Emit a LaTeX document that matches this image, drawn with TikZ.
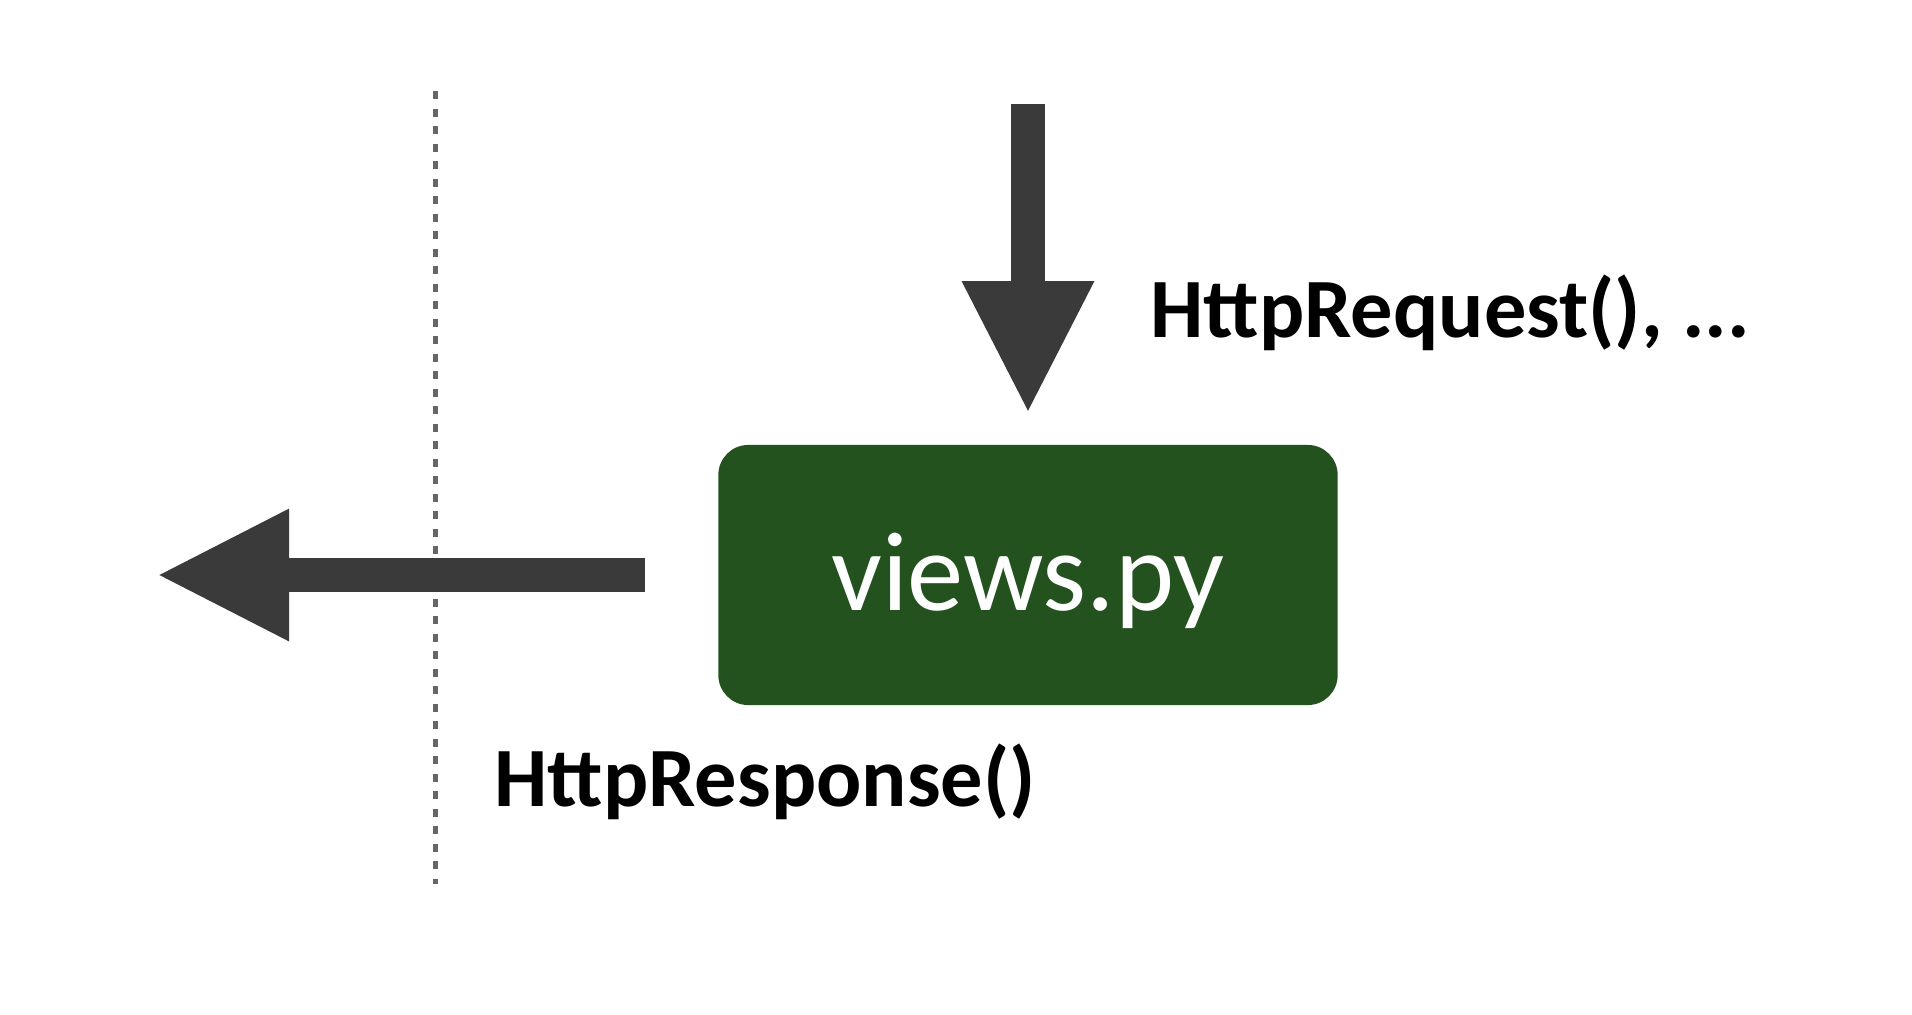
\documentclass[tikz,border=0pt]{standalone}
\usepackage{fontspec}
\usepackage{tikz}
\usetikzlibrary{arrows.meta}
\newfontfamily\labelfont{Carlito}
\newfontfamily\boxfont{Carlito}
\definecolor{viewgreen}{HTML}{23521F}
\definecolor{arrowgray}{HTML}{3A3A3A}
\tikzset{
  viewbox/.style={fill=viewgreen, rounded corners=0.3cm, minimum width=6.19cm, minimum height=2.6cm, text height=1cm, text depth=0.3cm, text=white, font=\boxfont\fontsize{32}{32}\selectfont},
  biglabel/.style={anchor=west, inner sep=0pt, font=\labelfont\bfseries\fontsize{24}{24}\selectfont},
  bigarrow/.style={draw=arrowgray, line width=0.34cm, -{Triangle[width=1.22cm,length=1.33cm]}, arrowgray}
}
\begin{document}
\begin{tikzpicture}[x=0.01cm, y=-0.01cm]

\useasboundingbox (0,0) rectangle (1912,1014);
\draw[gray!80!black, line width=0.05cm, dash pattern=on 0.08cm off 0.095cm] (435,91) -- (435,884);
\node[viewbox] (views) at (1028,575) {views.py};
\coordinate (request) at (1028,104);
\coordinate (response) at (156,575);
\draw[bigarrow, shorten >=0.3cm] (request) -- (views.north);
\draw[bigarrow, shorten <=0.73cm] (views.west) -- (response);
\node[biglabel] (reqlabel) at (1150,313) {HttpRequest(), ...};
\node[biglabel] (resplabel) at (494,782) {HttpResponse()};

\end{tikzpicture}
\end{document}
